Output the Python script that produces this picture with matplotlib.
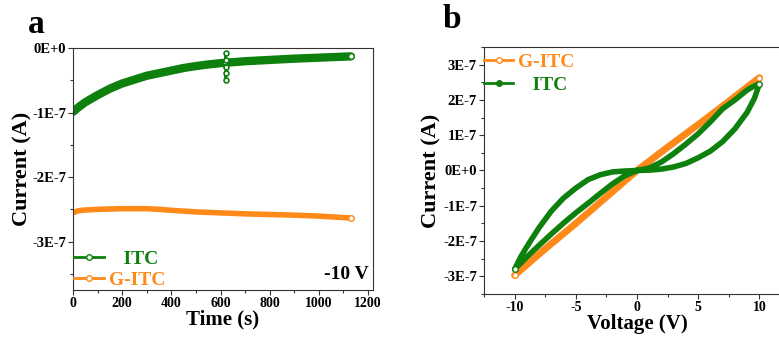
import numpy as np
import matplotlib
matplotlib.use("Agg")
import matplotlib.pyplot as plt
from matplotlib.lines import Line2D
from matplotlib.ticker import MultipleLocator, FuncFormatter

# --- data (current in units of 1E-7 A) ---
SCALE = 1e-7
GREEN = "#0d800d"
ORANGE = "#ff8a1a"

# a: current vs time at -10 V
itc_t = [0, 25, 50, 100, 150, 200, 250, 300, 350, 400, 450, 500, 550, 600,
         650, 700, 800, 900, 1000, 1130]
itc_i = [-0.99, -0.91, -0.84, -0.73, -0.63, -0.55, -0.49, -0.43, -0.39, -0.35,
         -0.31, -0.28, -0.255, -0.235, -0.22, -0.205, -0.185, -0.165, -0.15, -0.13]
spike_t = [618, 621, 621, 621, 621, 624]
spike_i = [-0.22, -0.08, -0.19, -0.38, -0.49, -0.30]
gitc_t = [0, 25, 50, 100, 200, 300, 350, 400, 500, 600, 700, 800, 900, 1000, 1130]
gitc_i = [-2.55, -2.52, -2.51, -2.50, -2.49, -2.49, -2.50, -2.515, -2.54, -2.555,
          -2.57, -2.58, -2.59, -2.605, -2.635]

# b: I-V sweeps
itc_v = [0, 1, 2, 3, 4, 5, 6, 7, 8, 9, 9.6, 10,
         9.5, 9, 8, 7, 6, 5, 4, 3, 2, 1, 0,
         -1, -2, -3, -4, -5, -6, -7, -8, -9, -10,
         -9.5, -9, -8, -7, -6, -5, -4, -3, -2, -1, 0]
itc_iv = [0, 0.01, 0.04, 0.10, 0.20, 0.36, 0.55, 0.82, 1.18, 1.65, 2.05, 2.45,
          2.38, 2.28, 2.00, 1.75, 1.38, 1.04, 0.75, 0.48, 0.24, 0.07, 0,
          -0.15, -0.38, -0.65, -0.93, -1.20, -1.49, -1.80, -2.12, -2.45, -2.80,
          -2.45, -2.16, -1.62, -1.15, -0.78, -0.50, -0.26, -0.12, -0.04, -0.015, 0]
gitc_v = [-10, -7.5, -5, -2.5, 0, 2.5, 5, 7.5, 10]
gitc_iv = [-2.97, -2.22, -1.50, -0.75, 0, 0.66, 1.30, 1.96, 2.63]

plt.rcParams["font.family"] = "serif"
plt.rcParams["font.serif"] = ["Liberation Serif", "DejaVu Serif"]
plt.rcParams["font.weight"] = "bold"
plt.rcParams["axes.labelweight"] = "bold"
plt.rcParams["axes.unicode_minus"] = False

fig = plt.figure(figsize=(7.79, 3.45), dpi=100)
ax1 = fig.add_axes([0.0937, 0.1594, 0.3851, 0.7015])
ax2 = fig.add_axes([0.6213, 0.1478, 0.3928, 0.716])


def amp_fmt(v, pos):
    n = int(round(v / SCALE))
    return "0E+0" if n == 0 else f"{n}E-7"


def style(ax):
    for s in ax.spines.values():
        s.set_color("#333333")
        s.set_linewidth(0.8)
    ax.tick_params(which="both", direction="out", top=False, right=False,
                   pad=1.5, color="#333333")
    ax.tick_params(axis="x", labelsize=10)
    ax.tick_params(axis="y", labelsize=10.5)
    ax.tick_params(which="major", length=3.5, width=0.8)
    ax.tick_params(which="minor", length=2, width=0.8)
    ax.yaxis.set_major_locator(MultipleLocator(1e-7))
    ax.yaxis.set_minor_locator(MultipleLocator(0.5e-7))
    ax.yaxis.set_major_formatter(FuncFormatter(amp_fmt))


sc = lambda a: np.array(a) * SCALE

# ---- panel a ----
ax1.plot(itc_t, sc(itc_i), color=GREEN, lw=6, solid_capstyle="round",
         marker="o", ms=4, mfc="white", mec=GREEN, mew=1, markevery=[-1])
ax1.plot(spike_t, sc(spike_i), color=GREEN, lw=1.8, marker="o", ms=3.5,
         mfc="white", mec=GREEN, mew=1.2)
ax1.plot(gitc_t, sc(gitc_i), color=ORANGE, lw=4, solid_capstyle="round",
         marker="o", ms=4, mfc="white", mec=ORANGE, mew=1, markevery=[-1])
ax1.set_xlim(0, 1220)
ax1.set_ylim(-3.75e-7, 0)
ax1.xaxis.set_major_locator(MultipleLocator(200))
ax1.xaxis.set_minor_locator(MultipleLocator(100))
style(ax1)
ax1.set_xlabel("Time (s)", fontsize=15, labelpad=0)
ax1.set_ylabel("Current (A)", fontsize=16, labelpad=0)
h_itc = Line2D([], [], color=GREEN, lw=2, marker="o", ms=4, mfc="white", mec=GREEN)
h_gitc = Line2D([], [], color=ORANGE, lw=2, marker="o", ms=4, mfc="white", mec=ORANGE)
ax1.legend([h_itc, h_gitc], ["   ITC", "G-ITC"], loc="lower left",
           bbox_to_anchor=(0.005, 0.005), frameon=False, fontsize=14,
           labelcolor=[GREEN, ORANGE], handlelength=1.5, handletextpad=0.3,
           borderpad=0, borderaxespad=0, labelspacing=0.15)
ax1.text(0.985, 0.03, "-10 V", transform=ax1.transAxes, ha="right", va="bottom",
         fontsize=14, fontweight="bold")
fig.text(0.036, 0.905, "a", fontsize=24, fontweight="bold")

# ---- panel b ----
ax2.plot(gitc_v, sc(gitc_iv), color=ORANGE, lw=5, solid_capstyle="round",
         marker="o", ms=4, mfc="white", mec=ORANGE, mew=1, markevery=[0, -1])
ax2.plot(itc_v, sc(itc_iv), color=GREEN, lw=4, solid_capstyle="round",
         solid_joinstyle="round", marker="o", ms=4, mfc="white", mec=GREEN,
         mew=1, markevery=[11, 32])
ax2.set_xlim(-12.5, 12.5)
ax2.set_ylim(-3.5e-7, 3.5e-7)
ax2.xaxis.set_major_locator(MultipleLocator(5))
ax2.xaxis.set_minor_locator(MultipleLocator(2.5))
style(ax2)
ax2.set_xlabel("Voltage (V)", fontsize=15, labelpad=0)
ax2.set_ylabel("Current (A)", fontsize=16, labelpad=1)
h_gitc2 = Line2D([], [], color=ORANGE, lw=2, marker="o", ms=4, mfc="white", mec=ORANGE)
h_itc2 = Line2D([], [], color=GREEN, lw=2, marker="o", ms=4, mfc=GREEN, mec=GREEN)
ax2.legend([h_gitc2, h_itc2], ["G-ITC", "   ITC"], loc="upper left",
           bbox_to_anchor=(0, 0.975), frameon=False, fontsize=14,
           labelcolor=[ORANGE, GREEN], handlelength=1.5, handletextpad=0.25,
           borderpad=0, borderaxespad=0, labelspacing=0.3)
fig.text(0.568, 0.918, "b", fontsize=24, fontweight="bold")

fig.savefig("out.png", dpi=100)
